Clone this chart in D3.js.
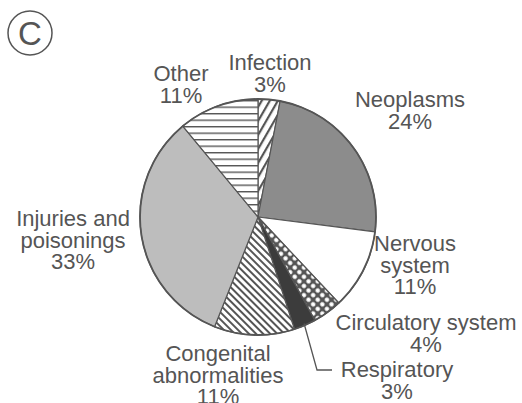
<!DOCTYPE html>
<html lang="en">
<head>
<meta charset="UTF-8">
<title>C - causes</title>
<script src="https://cdn.jsdelivr.net/npm/d3@7"></script>
<style>
  body { margin: 0; background: #fff; }
  text { font-family: "Liberation Sans", Arial, sans-serif; fill: #555; }
</style>
</head>
<body>
<svg id="chart" width="522" height="403"></svg>
<script>
// slices clockwise from 12 o'clock
const categories = ['Infection', 'Neoplasms', 'Nervous system', 'Circulatory system',
  'Respiratory', 'Congenital abnormalities', 'Injuries and poisonings', 'Other']
const values = [3, 24, 11, 4, 3, 11, 33, 11]
const labelLines = [
  ['Infection', '3%'],
  ['Neoplasms', '24%'],
  ['Nervous', 'system', '11%'],
  ['Circulatory system', '4%'],
  ['Respiratory', '3%'],
  ['Congenital', 'abnormalities', '11%'],
  ['Injuries and', 'poisonings', '33%'],
  ['Other', '11%']
]

// where each label block sits (x centre, first baseline)
const labelPos = [[270, 70], [410, 107], [415, 251], [426, 330], [397, 377], [218, 361], [73, 226], [181, 81]]
const fills = ['url(#hatchFwd)', '#8c8c8c', '#fff', 'url(#checks)', '#3c3c3c', 'url(#hatchBack)', '#bdbdbd', 'url(#horiz)']

const cx = 258, cy = 217, r = 118
const lineH = 21.5

const svg = d3.select('#chart')
const defs = svg.append('defs')

const pat = (id, w, h, bg) => {
  const p = defs.append('pattern').attr('id', id)
    .attr('patternUnits', 'userSpaceOnUse').attr('width', w).attr('height', h)
  p.append('rect').attr('width', w).attr('height', h).attr('fill', bg)
  return p
}

pat('hatchFwd', 7, 7, '#fff')
  .attr('patternTransform', 'rotate(30)')
  .append('rect').attr('width', 2.2).attr('height', 7).attr('fill', '#555')

pat('hatchBack', 5, 5, '#fff')
  .attr('patternTransform', 'rotate(-45)')
  .append('rect').attr('width', 2).attr('height', 5).attr('fill', '#555')

pat('horiz', 10, 6.5, '#fff')
  .append('rect').attr('y', 0).attr('width', 10).attr('height', 1.4).attr('fill', '#555')

const chk = pat('checks', 6.5, 6.5, '#555').attr('patternTransform', 'rotate(45)')
chk.append('rect').attr('x', 1.1).attr('y', 1.1).attr('width', 4.3).attr('height', 4.3)
  .attr('rx', 1.6).attr('fill', '#fff')

const pie = d3.pie().sort(null).value(d => d)
const arc = d3.arc().innerRadius(0).outerRadius(r)

const g = svg.append('g').attr('transform', `translate(${cx},${cy})`)

g.selectAll('path')
  .data(pie(values))
  .join('path')
  .attr('d', arc)
  .attr('fill', (d, i) => fills[i])
  .attr('stroke', '#555')
  .attr('stroke-width', 1.2)
  .attr('stroke-linejoin', 'round')

g.append('circle').attr('r', r).attr('fill', 'none')
  .attr('stroke', '#555').attr('stroke-width', 1.8)

// labels
const labels = svg.selectAll('text.lbl')
  .data(labelLines)
  .join('text')
  .attr('class', 'lbl')
  .attr('text-anchor', 'middle')
  .attr('font-size', 22)

labels.each(function (lines, i) {
  d3.select(this).selectAll('tspan')
    .data(lines)
    .join('tspan')
    .attr('x', labelPos[i][0])
    .attr('y', (d, j) => labelPos[i][1] + j * lineH)
    .text(d => d)
})

// leader for Respiratory
const resp = pie(values)[4]
const midA = (resp.startAngle + resp.endAngle) / 2
const px = cx + Math.sin(midA) * (r - 2), py = cy - Math.cos(midA) * (r - 2)
svg.append('path')
  .attr('d', `M${px},${py}L${317},${370}L${332},${370}`)
  .attr('fill', 'none').attr('stroke', '#555').attr('stroke-width', 1.3)

// panel letter
svg.append('circle').attr('cx', 30).attr('cy', 33).attr('r', 22)
  .attr('fill', 'none').attr('stroke', '#555').attr('stroke-width', 1.5)
svg.append('text').attr('x', 30).attr('y', 45).attr('text-anchor', 'middle')
  .attr('font-size', 33).text('C')
</script>
</body>
</html>
